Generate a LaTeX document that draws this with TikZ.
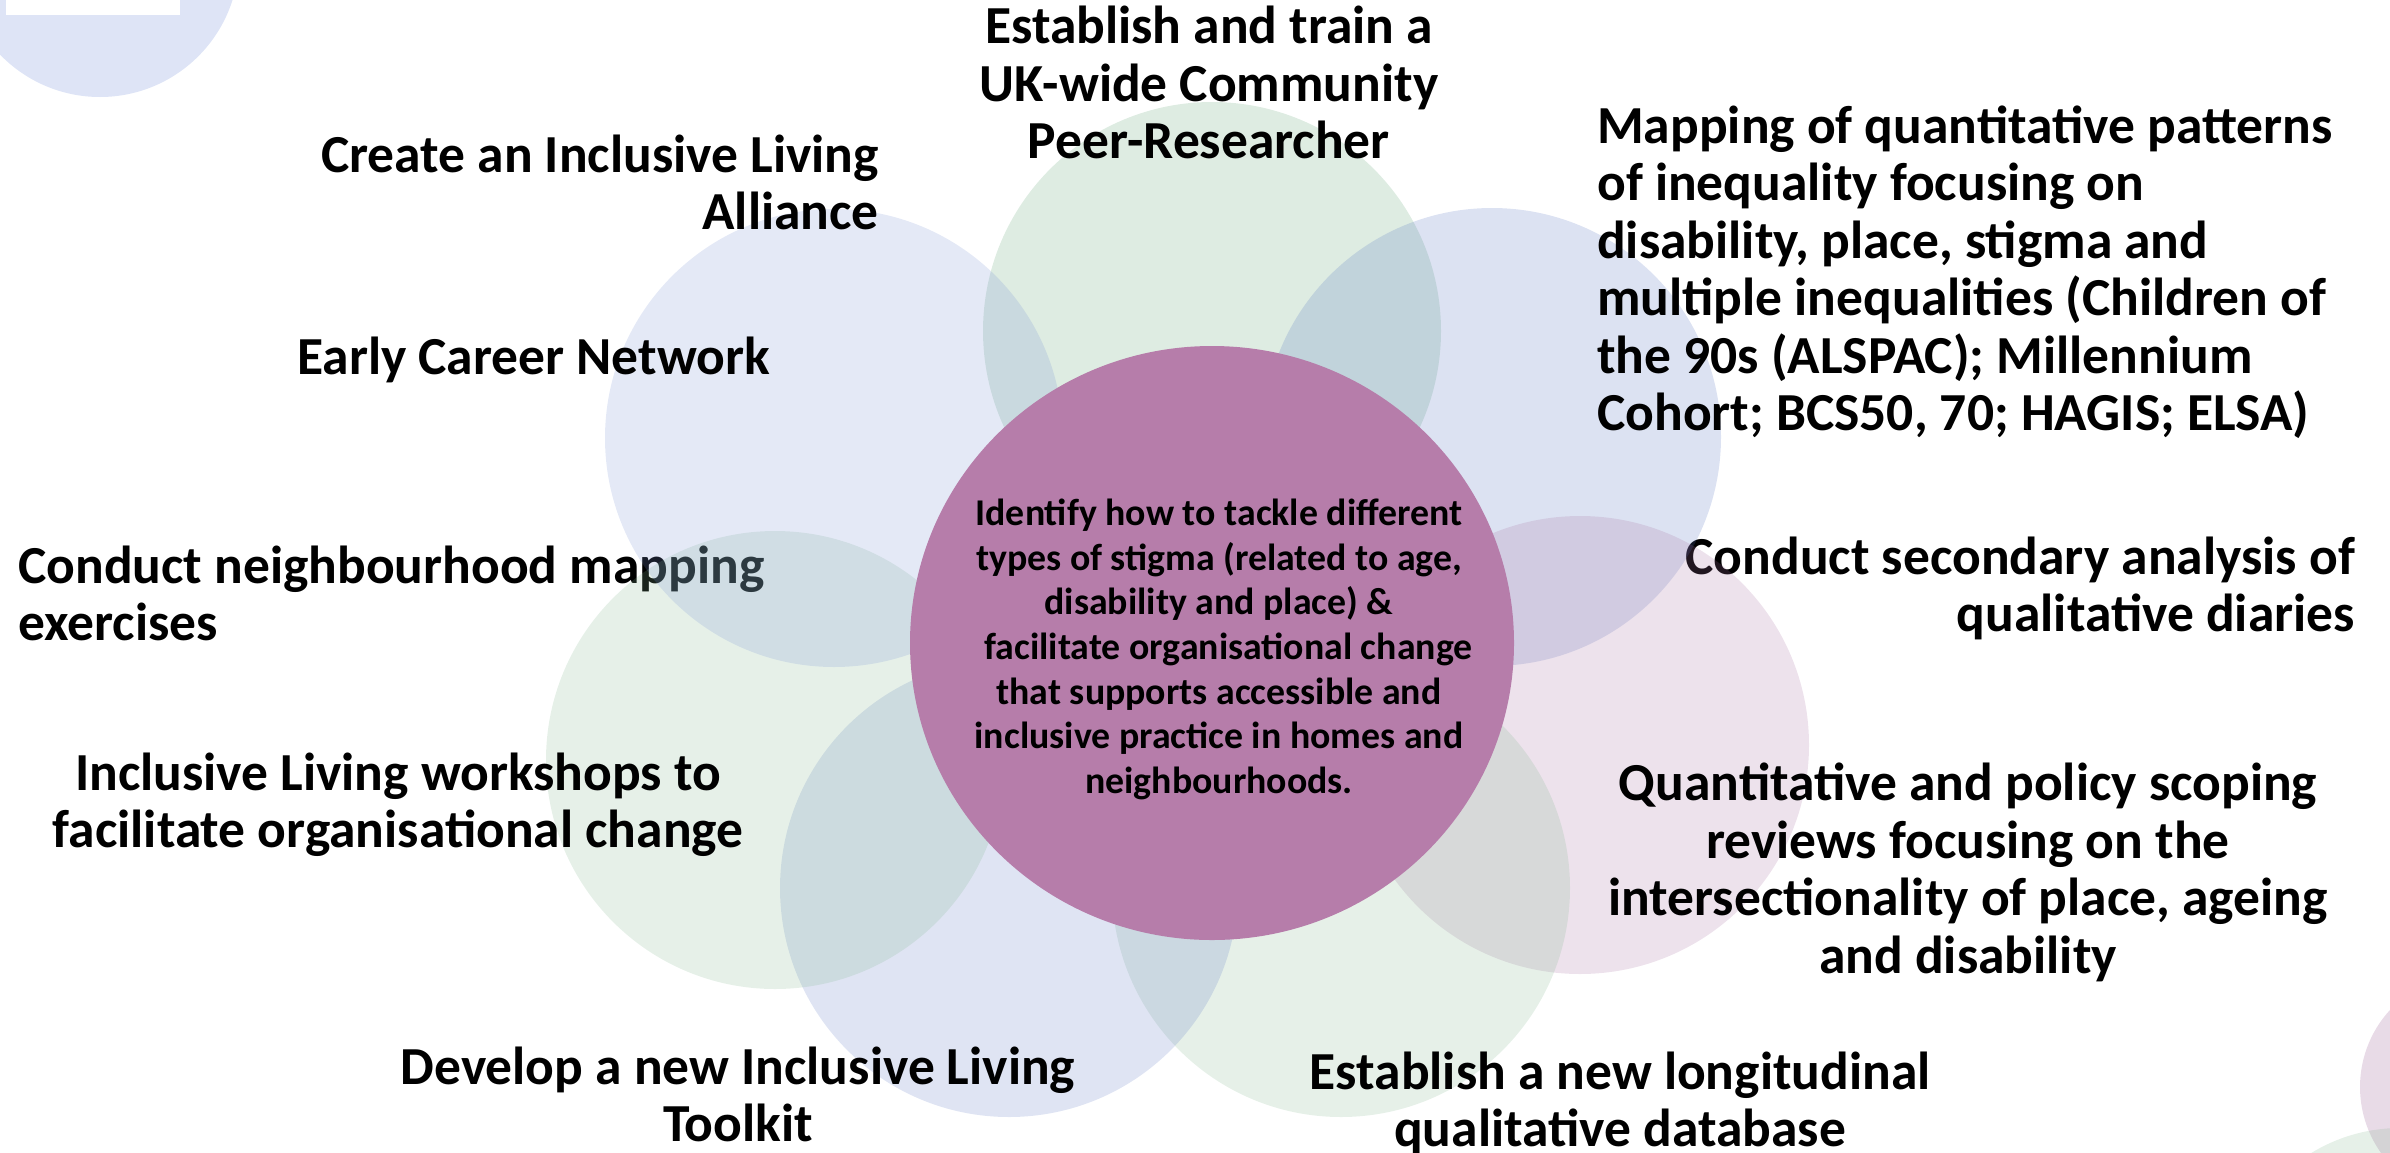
\documentclass[tikz,border=0pt]{standalone}
\usepackage{fontspec}
\setmainfont{Carlito}
\usetikzlibrary{shapes.geometric}
\definecolor{grnA}{RGB}{90,160,110}
\definecolor{grnB}{RGB}{130,182,142}
\definecolor{bluA}{RGB}{120,145,210}
\definecolor{bluB}{RGB}{80,110,190}
\definecolor{bluC}{RGB}{95,120,195}
\definecolor{pnkA}{RGB}{165,110,160}
\definecolor{hub}{RGB}{182,125,170}
\definecolor{decoblue}{RGB}{222,228,246}
\begin{document}
\begin{tikzpicture}[x=1pt,y=-1pt,
  petal/.style={circle, minimum size=458pt, inner sep=0pt, fill opacity=0.2, draw=none},
  lbl/.style={font=\fontsize{53.5}{57.5}\selectfont\bfseries, inner sep=0pt,
    execute at begin node=\strut, execute at end node=\strut},
  hubtext/.style={font=\fontsize{37.8}{44.7}\selectfont\bfseries, inner sep=0pt, align=center,
    execute at begin node=\strut, execute at end node=\strut}]
\useasboundingbox (0,0) rectangle (2390,1152);
% decorative circles
\fill[decoblue] (100,-42) circle (139pt);
\fill[white] (6,0) rectangle (180,15);
\fill[pnkA, fill opacity=0.25] (2474,1087) circle (114pt);
\fill[grnB, fill opacity=0.2] (2400,1298) circle (170pt);
% texts beneath petals
\node[lbl, anchor=west, align=left] (t5) at (18,602) {Conduct neighbourhood mapping\\exercises};
\node[lbl, anchor=east, align=right] (t6) at (2355,593) {Conduct secondary analysis of\\qualitative diaries};
% petals
\node[petal, fill=grnA] (p1) at (1212,331) {};
\node[petal, fill=bluB] (p2) at (1492,437) {};
\node[petal, fill=pnkA] (p3) at (1580,745) {};
\node[petal, fill=grnB] (p4) at (1341,888) {};
\node[petal, fill=bluC] (p5) at (1009,888) {};
\node[petal, fill=grnB] (p6) at (775,760) {};
\node[petal, fill=bluA] (p7) at (834,438) {};
% hub
\node[ellipse, minimum width=604pt, minimum height=594pt, inner sep=0pt, fill=hub] (hubc) at (1212,643) {};
\node[hubtext] (ht) at (1219,653) {Identify how to tackle different\\types of stigma (related to age,\\disability and place) \&\\\hspace{0.5em}facilitate organisational change\\that supports accessible and\\inclusive practice in homes and\\neighbourhoods.};
% labels
\node[lbl, align=center] (t1) at (1209,91) {Establish and train a\\UK-wide Community\\Peer-Researcher};
\node[lbl, anchor=east, align=right] (t2) at (879,191) {Create an Inclusive Living\\Alliance};
\node[lbl, anchor=west, align=left] (t3) at (1597,277) {Mapping of quantitative patterns\\of inequality focusing on\\disability, place, stigma and\\multiple inequalities (Children of\\the 90s (ALSPAC); Millennium\\Cohort; BCS50, 70; HAGIS; ELSA)};
\node[lbl, anchor=west] (t4) at (297,363) {Early Career Network};
\node[lbl, align=center] (t7) at (398,809) {Inclusive Living workshops to\\facilitate organisational change};
\node[lbl, align=center] (t8) at (1968,877) {Quantitative and policy scoping\\reviews focusing on the\\intersectionality of place, ageing\\and disability};
\node[lbl, align=center] (t9) at (738,1103) {Develop a new Inclusive Living\\Toolkit};
\node[lbl, align=center] (t10) at (1620,1108) {Establish a new longitudinal\\qualitative database};
\end{tikzpicture}
\end{document}
